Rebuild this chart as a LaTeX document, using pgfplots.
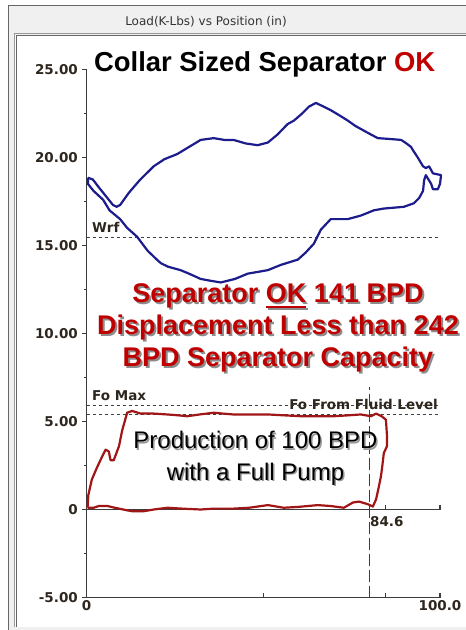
\documentclass[border=0pt]{standalone}
\usepackage{pgfplots}
\pgfplotsset{compat=1.18}
\usepackage{fontspec}
\setmainfont{Liberation Sans}
\newfontfamily\dejavu{DejaVu Sans}
\definecolor{bluecurve}{RGB}{28,28,140}
\definecolor{redcurve}{RGB}{160,22,22}
\definecolor{redtext}{RGB}{192,0,0}
\definecolor{labelc}{RGB}{45,38,30}
\definecolor{axisc}{RGB}{60,60,60}
\definecolor{barc}{RGB}{240,240,240}
\newcommand\thickul[1]{\vtop{\hbox{#1}\kern3bp\hrule height 2bp}}
% text with a drop shadow in one box: #1 shadow colour, #2 offset, #3 text colour, #4 text
\newcommand\shadowed[4]{\makebox[0pt][l]{\kern#2\raisebox{-#2}{\textcolor{#1}{#4}}}\textcolor{#3}{#4}}
\begin{document}
\begin{tikzpicture}
\begin{scope}[x=1bp,y=-1bp]
\fill[white] (0,0) rectangle (466,630);
\fill[barc] (9,5) rectangle (466,36);
\fill[barc] (9,5) rectangle (14,630);
\fill[barc] (9,627) rectangle (466,630);
\draw[black!60, line width=1bp] (8.5,630) -- (8.5,5) -- (466,5);
\draw[black!40, line width=1bp] (14.5,627) -- (14.5,33.5) -- (466,33.5);
\draw[black!60, line width=1.3bp] (16.5,627) -- (16.5,35.5) -- (466,35.5);
\node[font=\dejavu\fontsize{12bp}{14bp}\selectfont, text=black!80] at (206,22) {Load(K-Lbs) vs Position (in)};
\end{scope}
\begin{axis}[
  at={(86.5bp,-597.5bp)}, anchor=south west,
  scale only axis, width=353.5bp, height=528bp,
  xmin=0, xmax=100, ymin=-5, ymax=25,
  axis x line*=bottom, axis y line*=left,
  axis line style={axisc, line width=1.3bp, -},
  clip=false,
  tick align=inside,
  major tick length=4.5bp, minor tick length=3bp,
  tick style={axisc, line width=1.3bp},
  major y tick style={xshift=-4.5bp},
  minor y tick style={xshift=-3bp},
  xtick={0,50,84.6,100}, xticklabels={0,,,100.0},
  ytick={-5,0,5,10,15,20,25},
  yticklabels={-5.00,0,5.00,10.00,15.00,20.00,25.00},
  minor ytick={-2.5,2.5,7.5,12.5,17.5,22.5},
  ticklabel style={font=\dejavu\bfseries\fontsize{13.5bp}{16bp}\selectfont, text=labelc, inner sep=0pt},
  yticklabel style={anchor=east, xshift=-8.5bp},
  xticklabel style={anchor=north, yshift=-3bp},
]
% reference lines
\addplot[black!75, dash pattern=on 3bp off 3bp, line width=1bp] coordinates {(0,15.47) (100,15.47)};
\addplot[black!75, dash pattern=on 3bp off 3bp, line width=1bp] coordinates {(0,5.90) (100,5.90)};
\addplot[black!75, dash pattern=on 3bp off 3bp, line width=1bp] coordinates {(0,5.37) (100,5.37)};
\addplot[axisc, dash pattern=on 12bp off 4bp, line width=1.2bp] coordinates {(80.06,-5) (80.06,6.96)};
\addplot[axisc, line width=1.3bp] coordinates {(0,0) (100,0)};
\addplot[axisc, line width=1.3bp] coordinates {(84.6,0) (84.6,0.26)};
\addplot[axisc, line width=1.3bp] coordinates {(100,0) (100,0.26)};
% surface card
\addplot[bluecurve, line width=2.2bp, line join=round] coordinates {
(0.4,18.85) (1.8,18.75) (3.5,18.3) (5.5,17.8) (7.5,17.3) (8.5,17.2) (9.5,17.3)
(12,18.0) (15,18.7) (19,19.5) (22,19.9) (25.7,20.2) (29,20.6) (32.3,21.0)
(36,21.1) (39,21.0) (41.6,21.0) (45,20.8) (48.4,20.7) (51.3,20.85) (54,21.3)
(56.9,21.9) (58.7,22.1) (61,22.5) (63,22.9) (64.9,23.1) (67,22.9) (69,22.7)
(71.5,22.4) (73.9,22.1) (76,21.8) (79.6,21.4) (82.4,21.1) (86,21.05) (89,21.0)
(90.5,20.8) (91.8,20.6) (92.4,20.4) (93.7,20.0) (95.2,19.5) (96.0,19.4)
(96.9,19.5) (98.0,19.1) (100.3,19.0) (100,18.5) (99.4,18.2) (98.0,18.2)
(97.5,18.5) (96,19.0) (95.5,18.7) (95.2,18.1) (94.1,17.7) (92.6,17.4)
(89.8,17.2) (87,17.15) (84.1,17.1) (81.3,17.0) (77.6,16.7) (73.9,16.5)
(69.1,16.5) (66.3,15.9) (64.3,15.1) (62,14.6) (59.8,14.2) (55,13.9)
(51.3,13.6) (45.6,13.4) (42,13.1) (38,12.9) (35,13.0) (32.3,13.1) (29,13.4)
(26.6,13.6) (23,13.8) (21,14.0) (19.9,14.2) (17.3,14.7) (14.3,15.5) (11.5,16.0)
(9.5,16.5) (6.5,17.0) (4.7,17.6) (2,18.1) (0.4,18.5) (0.4,18.85)
};
% pump card
\addplot[redcurve, line width=2.2bp, line join=round] coordinates {
(0.3,0.1) (0.5,0.8) (1.5,1.7) (3,2.4) (4.4,3.0) (5.4,3.4) (6.3,3.3) (6.8,2.8)
(7.7,2.8) (9.2,3.6) (10.1,4.5) (11.5,5.5) (12.9,5.6) (15.3,5.45) (19,5.45)
(22.9,5.4) (26,5.35) (28.5,5.3) (32,5.4) (36,5.5) (38.5,5.45) (41.6,5.4)
(46,5.4) (51.3,5.4) (56,5.35) (60.6,5.3) (65,5.3) (70,5.3) (74,5.35)
(77.6,5.4) (80.5,5.3) (81.9,5.45) (83.5,5.3) (84.7,5.1) (85,4.2) (85,3.6)
(84.1,3.2) (83.7,2.5) (83.3,1.9) (82.6,1.2) (81.9,0.57) (81,0.17) (79.6,0.3)
(77.1,0.45) (75.4,0.4) (72.8,0.1) (69,0.2) (65.4,0.25) (60,0.15) (55.8,0.1)
(51.3,0.25) (46,0.1) (41.6,0.05) (36,0.05) (32.3,0.0) (27,0.05) (22.9,0.1)
(19,0.0) (16.1,-0.1) (13,-0.1) (11.6,-0.05) (8,0.1) (5.9,0.2) (3.5,0.2)
(2,0.1) (0.3,0.1)
};
\end{axis}
\begin{scope}[x=1bp,y=-1bp]
\node[anchor=base west, inner sep=0pt, font=\bfseries\fontsize{27.4bp}{30bp}\selectfont] at (94,71.5) {Collar Sized Separator \textcolor{redtext}{OK}};
% red annotation with shadow, one node
\node[anchor=north, inner sep=0pt, align=center, font=\bfseries\fontsize{27bp}{31.75bp}\selectfont] at (278,283.5) {\shadowed{black!45}{2bp}{redtext}{Separator \thickul{OK} 141 BPD}\\\shadowed{black!45}{2bp}{redtext}{Displacement Less than 242}\\\shadowed{black!45}{2bp}{redtext}{BPD Separator Capacity}};
\node[anchor=north, inner sep=0pt, align=center, font=\fontsize{24bp}{31.7bp}\selectfont] at (255.5,431) {\shadowed{black!40}{1.5bp}{black}{Production of 100 BPD}\\\shadowed{black!40}{1.5bp}{black}{with a Full Pump}};
\node[anchor=base west, inner sep=0pt, text=labelc, font=\dejavu\bfseries\fontsize{13.5bp}{16bp}\selectfont] at (92,232) {Wrf};
\node[anchor=base west, inner sep=0pt, text=labelc, font=\dejavu\bfseries\fontsize{13.5bp}{16bp}\selectfont] at (92,400.7) {Fo Max};
\node[anchor=base east, inner sep=0pt, text=labelc, font=\dejavu\bfseries\fontsize{13.5bp}{16bp}\selectfont] at (438,409.5) {Fo From Fluid Level};
\node[anchor=base west, inner sep=0pt, text=labelc, font=\dejavu\bfseries\fontsize{13.5bp}{16bp}\selectfont] at (370,526.7) {84.6};
\end{scope}
\pgfresetboundingbox
\path[use as bounding box] (0,0) rectangle (466bp,-630bp);
\end{tikzpicture}
\end{document}
